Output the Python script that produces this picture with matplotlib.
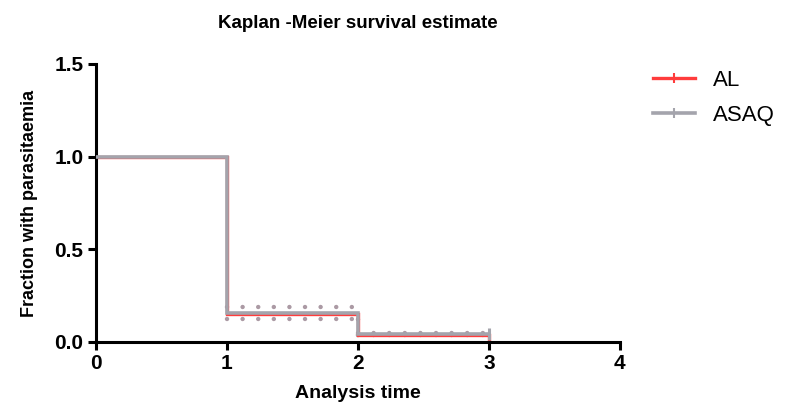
#!/usr/bin/env python3
"""Kaplan-Meier survival estimate, AL vs ASAQ."""
import matplotlib.pyplot as plt

# step times and survival fractions
times = [0, 1, 2, 3]
al_surv = [1.0, 0.15, 0.035, 0.0]
asaq_surv = [1.0, 0.157, 0.043, 0.043]

# 95% CI bands (dotted), one value per interval after the first drop
ci_start = [1, 2]
ci_end = [2, 3]
ci_upper = [0.19, 0.046]
ci_lower = [0.125, 0.04]

asaq_censor_time = [3]
asaq_censor_surv = [0.043]

RED = "#ff3c3c"
GRAY = "#a4a4ac"
DOT = "#ab9aa4"

plt.rcParams["font.family"] = ["Liberation Sans", "DejaVu Sans"]

fig = plt.figure(figsize=(7.89, 4.03), dpi=100)
ax = fig.add_axes([0.1217, 0.1514, 0.664, 0.6898])

dotted = (0, (0.01, 3.5))
for band in (ci_upper, ci_lower):
    ax.hlines(band, ci_start, ci_end, colors=DOT, lw=3.2,
              linestyles=[dotted], capstyle="round", zorder=1)
# vertical dotted join at the second drop
ax.vlines(ci_start[1:], ci_lower[1:], ci_upper[:-1], colors=DOT, lw=3.2,
          linestyles=[dotted], capstyle="round", zorder=1)

ax.step(times, al_surv, where="post", color=RED, lw=2.4, label="AL",
        solid_joinstyle="miter", zorder=2)
ax.step(times, asaq_surv, where="post", color=GRAY, lw=2.6,
        label="ASAQ", solid_joinstyle="miter", zorder=3)
ax.plot(asaq_censor_time, asaq_censor_surv, linestyle="none", marker="|",
        markersize=8, mew=2.2, color=GRAY, zorder=3)

ax.set_xlim(0, 4)
ax.set_ylim(0, 1.5)
ax.set_xticks([0, 1, 2, 3, 4])
ax.set_yticks([0.0, 0.5, 1.0, 1.5])
ax.set_yticklabels(["0.0", "0.5", "1.0", "1.5"])
for side in ("top", "right"):
    ax.spines[side].set_visible(False)
for side in ("left", "bottom"):
    ax.spines[side].set_linewidth(2.2)
    ax.spines[side].set_clip_on(False)
ax.tick_params(width=2.2, length=6, labelsize=15, pad=3)
for label in ax.get_xticklabels() + ax.get_yticklabels():
    label.set_fontweight("bold")

ax.set_xlabel("Analysis time", fontsize=14, fontweight="bold", labelpad=8)
ax.set_ylabel("Fraction with parasitaemia", fontsize=13, fontweight="bold",
              labelpad=12)
ax.set_title("Kaplan -Meier survival estimate", fontsize=13.5,
             fontweight="bold", pad=26)

handles = [
    plt.Line2D([], [], color=RED, lw=2.4, marker="|", markersize=7, mew=1.5),
    plt.Line2D([], [], color=GRAY, lw=2.6, marker="|", markersize=7, mew=1.5),
]
fig.legend(handles, ["AL", "ASAQ"], loc="upper left",
           bbox_to_anchor=(0.8024, 0.877), frameon=False, fontsize=16,
           handlelength=1.9, handletextpad=0.8, labelspacing=0.65)

fig.savefig("out.png", dpi=100)
